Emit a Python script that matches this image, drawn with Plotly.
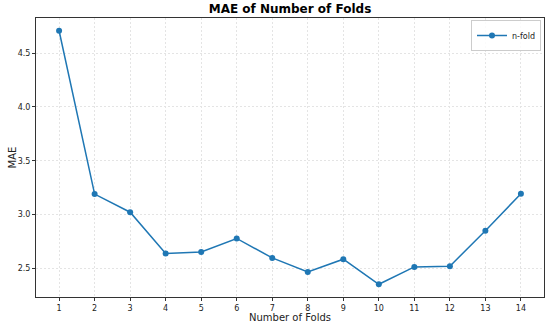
import plotly.graph_objects as go

folds = list(range(1, 15))
mae = [4.709, 3.19, 3.021, 2.637, 2.652, 2.777, 2.596, 2.466, 2.584, 2.351, 2.512, 2.519, 2.849, 3.193]
series_name = "n-fold"
title = "MAE of Number of Folds"
x_label = "Number of Folds"
y_label = "MAE"
y_ticks = [2.5, 3.0, 3.5, 4.0, 4.5]
y_tick_text = ["2.5", "3.0", "3.5", "4.0", "4.5"]

color = "#1f77b4"
font = "DejaVu Sans"

W, H = 550, 325
ML, MR, MT, MB = 36, 6, 18, 28
PW, PH = W - ML - MR, H - MT - MB

fig = go.Figure()
fig.add_trace(go.Scatter(
    x=folds, y=mae, mode="lines+markers", name=series_name,
    line=dict(color=color, width=1.5),
    marker=dict(color=color, size=6),
))

axis_common = dict(
    showline=True, linecolor="#333333", linewidth=1, mirror=True,
    ticks="outside", ticklen=3, tickwidth=1, tickcolor="#333333",
    showgrid=True, gridcolor="#e4e4e4", griddash="2px,2px", gridwidth=0.8,
    zeroline=False, tickfont=dict(family=font, size=8, color="#222222"),
    automargin=False,
)

fig.update_layout(
    width=W, height=H,
    margin=dict(l=ML, r=MR, t=MT, b=MB, autoexpand=False),
    paper_bgcolor="white", plot_bgcolor="white",
    title=dict(text="<b>" + title + "</b>", x=(ML + PW / 2) / W, xanchor="center", y=1 - 9 / H, yanchor="middle",
               font=dict(family=font, size=12, color="black")),
    font=dict(family=font, color="#222222"),
    xaxis=dict(range=[0.35, 14.65], tickmode="array", tickvals=folds,
               ticktext=[str(f) for f in folds], **axis_common),
    yaxis=dict(range=[2.2325, 4.8275], tickmode="array", tickvals=y_ticks, ticktext=y_tick_text,
               **axis_common),
    showlegend=True,
    legend=dict(x=1 - 3 / PW, xanchor="right", y=1 - 2 / PH, yanchor="top",
                bgcolor="rgba(255,255,255,0.85)", bordercolor="#cccccc", borderwidth=1,
                font=dict(family=font, size=8, color="#222222"),
                itemwidth=30, tracegroupgap=0),
    annotations=[
        dict(text=x_label, xref="paper", yref="paper", x=0.5, y=-(317 - (H - MB)) / PH,
             xanchor="center", yanchor="middle", showarrow=False, borderpad=0,
             font=dict(family=font, size=10, color="#222222")),
        dict(text=y_label, xref="paper", yref="paper", x=-(ML - 12) / PW, y=0.5,
             xanchor="center", yanchor="middle", textangle=-90, showarrow=False, borderpad=0,
             font=dict(family=font, size=10, color="#222222")),
    ],
)

fig.write_html("out.html", config={"displayModeBar": False},
               post_script="document.body.style.margin='0';document.body.style.overflow='hidden';")
